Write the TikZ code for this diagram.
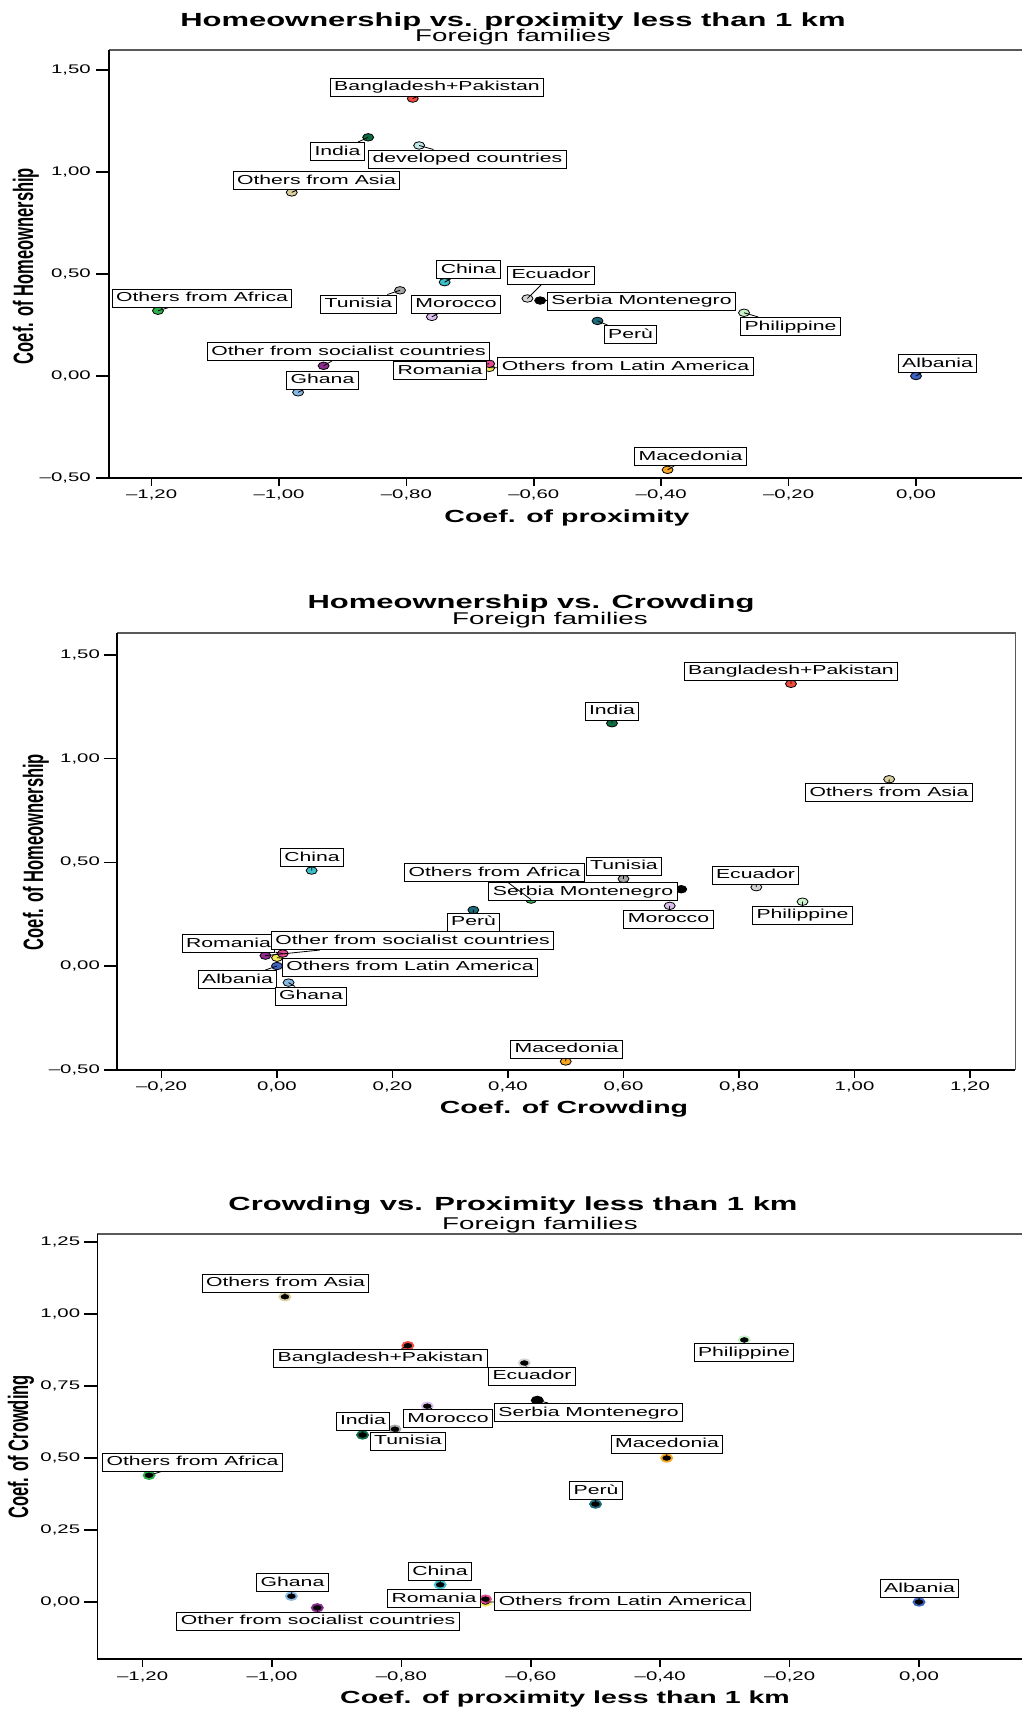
\documentclass[tikz,border=0pt]{standalone}
\usepackage{fontspec}
\setmainfont{Liberation Sans}[FakeStretch=1.63]
\newfontfamily\etroit{Liberation Sans}[FakeStretch=0.59]
\usetikzlibrary{shapes.geometric}

% Couleurs des groupes
\definecolor{rouge}{HTML}{EF4B3F}
\definecolor{vertfonce}{HTML}{0E6B3F}
\definecolor{cyanpale}{HTML}{BFE8E8}
\definecolor{beige}{HTML}{D9CFA0}
\definecolor{turquoise}{HTML}{3CBFC9}
\definecolor{gris}{HTML}{A6A6A6}
\definecolor{lavande}{HTML}{D9BDEB}
\definecolor{vert}{HTML}{2DB34A}
\definecolor{pourpre}{HTML}{8E2A8E}
\definecolor{bleuciel}{HTML}{86B8E3}
\definecolor{rose}{HTML}{E34A93}
\definecolor{jaune}{HTML}{F5EB5A}
\definecolor{grisclair}{HTML}{D4D4D4}
\definecolor{petrole}{HTML}{1C6B7D}
\definecolor{vertpale}{HTML}{C9F2C9}
\definecolor{bleu}{HTML}{3D62C2}
\definecolor{orangeM}{HTML}{F5A623}

\begin{document}
\begin{tikzpicture}[
    x=1pt, y=-1pt,  % coordonnées en pixels
    axe/.style={line width=1.5pt},
    cadre/.style={line width=1.1pt, draw=black!65},
    marqueur/.style={ellipse, draw, line width=0.8pt, minimum width=11pt, minimum height=7.5pt, inner sep=0pt},
    marqueurnoir/.style={ellipse, fill=black, line width=1.8pt, minimum width=11pt, minimum height=7.5pt, inner sep=0pt},
    etiq/.style={draw, fill=white, line width=1pt, inner xsep=4pt, inner ysep=2.5pt,
                 text height=10pt, text depth=3pt, font=\fontsize{13}{13}\selectfont},
    fil/.style={line width=0.8pt},
    graduation/.style={font=\fontsize{12.5}{12.5}\selectfont, inner sep=0pt},
    titre/.style={font=\bfseries\fontsize{19}{19}\selectfont, inner sep=0pt},
    soustitre/.style={font=\fontsize{17}{17}\selectfont, inner sep=0pt},
    nomaxe/.style={font=\bfseries\fontsize{17.5}{17.5}\selectfont, inner sep=0pt},
    nomaxev/.style={font=\etroit\bfseries\fontsize{28}{28}\selectfont, inner sep=0pt, rotate=90}
]
\fill[white] (0,0) rectangle (1021,1711);
\useasboundingbox (0,0) rectangle (1021,1711);

% Graphique 1 : propriété vs proximité
\node[titre, anchor=base] (titre1) at (513,26) {Homeownership vs. proximity less than 1 km};
\node[soustitre, anchor=base] (sous1) at (513,41) {Foreign families};
\node[nomaxe, anchor=base] (axex1) at (567,522) {Coef. of proximity};
\node[nomaxev, anchor=base] (axey1) at (33,266) {Coef. of Homeownership};
\begin{scope}[shift={(916,376)}, x=637pt, y=204pt]
  \draw[cadre] (-1.267,1.598) -- (0.17,1.598);
  \draw[axe] (-1.267,1.598) -- (-1.267,-0.5) -- (0.17,-0.5);
  \foreach \v/\t [count=\i] in {-0.5/\textendash0{,}50, 0/0{,}00, 0.5/0{,}50, 1/1{,}00, 1.5/1{,}50} {
    \draw[axe] (-1.267,\v) -- ++(-13pt,0pt);
    \node[graduation, anchor=east, xshift=-18pt] (gay\i) at (-1.267,\v) {\t};
  }
  \foreach \v/\t [count=\i] in {-1.2/\textendash1{,}20, -1/\textendash1{,}00, -0.8/\textendash0{,}80,
      -0.6/\textendash0{,}60, -0.4/\textendash0{,}40, -0.2/\textendash0{,}20, 0/0{,}00} {
    \draw[axe] (\v,-0.5) -- ++(0pt,-8pt);
    \node[graduation, anchor=base, yshift=-20pt] (gax\i) at (\v,-0.5) {\t};
  }
  \foreach \n/\c/\px/\py in {bp/rouge/-0.79/1.36, inde/vertfonce/-0.86/1.17, dev/cyanpale/-0.78/1.13,
      asie/beige/-0.98/0.90, chine/turquoise/-0.74/0.46, tun/gris/-0.81/0.42, maroc/lavande/-0.76/0.29,
      afr/vert/-1.19/0.32, soc/pourpre/-0.93/0.05, ghana/bleuciel/-0.97/-0.08, latam/jaune/-0.67/0.04,
      roum/rose/-0.67/0.06, equa/grisclair/-0.61/0.38, serb/black/-0.59/0.37, perou/petrole/-0.50/0.27,
      phil/vertpale/-0.27/0.31, alb/bleu/0/0, mace/orangeM/-0.39/-0.46}
    \node[marqueur, fill=\c] (a\n) at (\px,\py) {};
\end{scope}
\foreach \n/\px/\py/\t in {bp/437/87/Bangladesh+Pakistan, inde/337.5/151.5/India,
    dev/467.5/159/developed countries, asie/316.5/180.5/Others from Asia, chine/468.5/269.5/China,
    equa/551/275/Ecuador, serb/641.5/301/Serbia Montenegro, perou/630.5/334.5/Perù,
    phil/790.5/326.5/Philippine, alb/937.5/363.5/Albania, mace/690.5/456.5/Macedonia,
    latam/625.5/366.5/Others from Latin America, afr/202/298/Others from Africa,
    tun/358.5/304/Tunisia, maroc/456/304/Morocco, soc/348.5/351.5/Other from socialist countries,
    ghana/322.5/380/Ghana, roum/440/370.5/Romania}
  \node[etiq] (la\n) at (\px,\py) {\t};
\foreach \n in {bp,inde,dev,asie,chine,tun,maroc,afr,soc,ghana,latam,roum,equa,serb,perou,phil,alb,mace}
  \draw[fil] (a\n.center) -- (la\n);

% Graphique 2 : propriété vs surpeuplement
\node[titre, anchor=base] (titre2) at (531,608) {Homeownership vs. Crowding};
\node[soustitre, anchor=base] (sous2) at (550,624) {Foreign families};
\node[nomaxe, anchor=base] (axex2) at (564,1113) {Coef. of Crowding};
\node[nomaxev, anchor=base] (axey2) at (43,852) {Coef. of Homeownership};
\begin{scope}[shift={(277,966)}, x=577.5pt, y=207.5pt]
  \draw[cadre] (-0.277,1.605) -- (1.278,1.605) -- (1.278,-0.5);
  \draw[axe] (-0.277,1.605) -- (-0.277,-0.5) -- (1.278,-0.5);
  \foreach \v/\t [count=\i] in {-0.5/\textendash0{,}50, 0/0{,}00, 0.5/0{,}50, 1/1{,}00, 1.5/1{,}50} {
    \draw[axe] (-0.277,\v) -- ++(-13pt,0pt);
    \node[graduation, anchor=east, xshift=-17pt] (gby\i) at (-0.277,\v) {\t};
  }
  \foreach \v/\t [count=\i] in {-0.2/\textendash0{,}20, 0/0{,}00, 0.2/0{,}20, 0.4/0{,}40,
      0.6/0{,}60, 0.8/0{,}80, 1/1{,}00, 1.2/1{,}20} {
    \draw[axe] (\v,-0.5) -- ++(0pt,-8pt);
    \node[graduation, anchor=base, yshift=-21pt] (gbx\i) at (\v,-0.5) {\t};
  }
  \foreach \n/\c/\px/\py in {bp/rouge/0.89/1.36, inde/vertfonce/0.58/1.17, asie/beige/1.06/0.90,
      chine/turquoise/0.06/0.46, tun/gris/0.60/0.42, afr/vert/0.44/0.32, serb/black/0.70/0.37,
      equa/grisclair/0.83/0.38, maroc/lavande/0.68/0.29, phil/vertpale/0.91/0.31,
      perou/petrole/0.34/0.27, soc/pourpre/-0.02/0.05, latam/jaune/0/0.04, roum/rose/0.01/0.06,
      alb/bleu/0/0, ghana/bleuciel/0.02/-0.08, mace/orangeM/0.50/-0.46}
    \node[marqueur, fill=\c] (b\n) at (\px,\py) {};
\end{scope}
\foreach \n/\px/\py/\t in {bp/791/671/Bangladesh+Pakistan, inde/612/711/India,
    asie/889/792.5/Others from Asia, chine/312/857.5/China, afr/494.5/872.5/Others from Africa,
    tun/624/866/Tunisia, serb/583/891.5/Serbia Montenegro, equa/755.5/875/Ecuador,
    maroc/668.5/919/Morocco, phil/802.5/915/Philippine, perou/473.5/922/Perù,
    roum/228.5/943.5/Romania, soc/412.5/940.5/Other from socialist countries,
    latam/410/967/Others from Latin America, alb/237.5/979.5/Albania, ghana/311/996/Ghana,
    mace/566.5/1049/Macedonia}
  \node[etiq] (lb\n) at (\px,\py) {\t};
\foreach \n in {bp,inde,asie,chine,tun,afr,serb,equa,maroc,phil,perou,soc,latam,roum,alb,ghana,mace}
  \draw[fil] (b\n.center) -- (lb\n);

% Graphique 3 : surpeuplement vs proximité
\node[titre, anchor=base] (titre3) at (513,1210) {Crowding vs. Proximity less than 1 km};
\node[soustitre, anchor=base] (sous3) at (540,1229) {Foreign families};
\node[nomaxe, anchor=base] (axex3) at (565,1703) {Coef. of proximity less than 1 km};
\node[nomaxev, anchor=base] (axey3) at (28,1447) {Coef. of Crowding};
\begin{scope}[shift={(919,1602)}, x=647pt, y=288pt]
  \draw[cadre] (-1.270,1.278) -- (0.16,1.278);
  \draw[axe] (-1.270,1.278) -- (-1.270,-0.198) -- (0.16,-0.198);
  \foreach \v/\t [count=\i] in {0/0{,}00, 0.25/0{,}25, 0.5/0{,}50, 0.75/0{,}75, 1/1{,}00, 1.25/1{,}25} {
    \draw[axe] (-1.270,\v) -- ++(-13pt,0pt);
    \node[graduation, anchor=east, xshift=-17pt] (gcy\i) at (-1.270,\v) {\t};
  }
  \foreach \v/\t [count=\i] in {-1.2/\textendash1{,}20, -1/\textendash1{,}00, -0.8/\textendash0{,}80,
      -0.6/\textendash0{,}60, -0.4/\textendash0{,}40, -0.2/\textendash0{,}20, 0/0{,}00} {
    \draw[axe] (\v,-0.198) -- ++(0pt,-8pt);
    \node[graduation, anchor=base, yshift=-21pt] (gcx\i) at (\v,-0.198) {\t};
  }
  \foreach \n/\c/\px/\py in {asie/beige/-0.98/1.06, bp/rouge/-0.79/0.89, equa/grisclair/-0.61/0.83,
      phil/vertpale/-0.27/0.91, serb/black/-0.59/0.70, maroc/lavande/-0.76/0.68, tun/gris/-0.81/0.60,
      inde/vertfonce/-0.86/0.58, mace/orangeM/-0.39/0.50, afr/vert/-1.19/0.44, perou/petrole/-0.50/0.34,
      chine/turquoise/-0.74/0.06, ghana/bleuciel/-0.97/0.02, latam/jaune/-0.67/0, roum/rose/-0.67/0.01,
      alb/bleu/0/0, soc/pourpre/-0.93/-0.02}
    \node[marqueurnoir, draw=\c] (c\n) at (\px,\py) {};
\end{scope}
\foreach \n/\px/\py/\t in {asie/285.5/1283/Others from Asia, bp/380.5/1358/Bangladesh+Pakistan,
    equa/532/1376/Ecuador, phil/744/1352.5/Philippine, serb/588.5/1412.5/Serbia Montenegro,
    maroc/448/1418.5/Morocco, inde/363/1421/India, tun/408/1441/Tunisia, mace/667/1444/Macedonia,
    afr/192.5/1462/Others from Africa, perou/596/1490.5/Perù, chine/440/1571.5/China,
    ghana/292.5/1582.5/Ghana, roum/434/1598.5/Romania, latam/622.5/1601.5/Others from Latin America,
    alb/919.5/1588.5/Albania, soc/318/1621/Other from socialist countries}
  \node[etiq] (lc\n) at (\px,\py) {\t};
\foreach \n in {asie,bp,equa,phil,serb,maroc,tun,inde,mace,afr,perou,chine,ghana,latam,roum,alb,soc}
  \draw[fil] (c\n.center) -- (lc\n);
\end{tikzpicture}
\end{document}
